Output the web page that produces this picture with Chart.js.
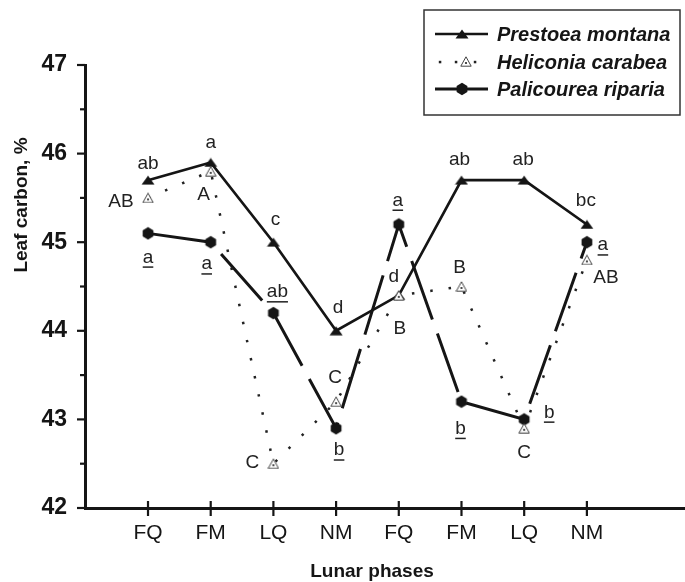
<!DOCTYPE html>
<html><head><meta charset="utf-8">
<script src="https://cdn.jsdelivr.net/npm/chart.js@4.4.1/dist/chart.umd.min.js"></script>
<style>html,body{margin:0;padding:0;background:#fff;}#wrap{width:685px;height:582px;}</style>
</head><body><div id="wrap"><canvas id="c" width="685" height="582"></canvas></div>
<script>
// ---- data ----
const phases = ['FQ','FM','LQ','NM','FQ','FM','LQ','NM'];
const seriesNames = ['Prestoea montana','Heliconia carabea','Palicourea riparia'];
const prestoea   = [45.7, 45.9, 45.0, 44.0, 44.4, 45.7, 45.7, 45.2];
const heliconia  = [45.5, 45.8, 42.5, 43.2, 44.4, 44.5, 42.9, 44.8];
const palicourea = [45.1, 45.0, 44.2, 42.9, 45.2, 43.2, 43.0, 45.0];
const prestoeaLetters   = ['ab','a','c','d','d','ab','ab','bc'];
const heliconiaLetters  = ['AB','A','C','C','B','B','C','AB'];
const palicoureaLetters = ['a','a','ab','b','a','b','b','a'];
const yTickValues = [42, 43, 44, 45, 46, 47];
const yMinorValues = [42.5, 43.5, 44.5, 45.5, 46.5];

// ---- label placement (pixel offsets from each point) ----
const prestoeaOffsets   = [[0,-16],[0,-20],[2,-22],[2,-23],[-5,-19],[-2,-20],[-1,-20],[-1,-24]];
const heliconiaOffsets  = [[-27,4],[-7,23],[-21,-1],[-1,-24],[1,33],[-2,-19],[0,25],[19,18]];
const palicoureaOffsets = [[0,24],[-4,22],[4,-21],[3,22],[-1,-24],[-1,27],[25,-7],[16,3]];

const FONT = '"Liberation Sans", Arial, Helvetica, sans-serif';
const INK = '#151515';

function makeCanvas(w, h, draw){ const c=document.createElement('canvas'); c.width=w; c.height=h; draw(c.getContext('2d')); return c; }
const hexMarker = makeCanvas(14,14,g=>{ g.fillStyle=INK; g.beginPath(); for(let k=0;k<6;k++){const a=-Math.PI/2+k*Math.PI/3; const x=7+6.2*Math.cos(a), y=7+6.2*Math.sin(a); k?g.lineTo(x,y):g.moveTo(x,y);} g.closePath(); g.fill(); });
const solidTri = makeCanvas(14,10,g=>{ g.fillStyle=INK; g.beginPath(); g.moveTo(7,0.5); g.lineTo(13.5,9.5); g.lineTo(0.5,9.5); g.closePath(); g.fill(); });
const openTri = makeCanvas(12,11,g=>{ g.fillStyle='#fff'; g.strokeStyle='#444'; g.lineWidth=1; g.beginPath(); g.moveTo(6,0.8); g.lineTo(11.2,10.2); g.lineTo(0.8,10.2); g.closePath(); g.fill(); g.stroke(); g.fillStyle='#222'; g.beginPath(); g.arc(6,7,1.1,0,Math.PI*2); g.fill(); });

const toPts = arr => arr.map((v,i)=>({x:i, y:v}));

const decorPlugin = {
  id:'decor',
  afterDatasetsDraw(chart){
    const ctx = chart.ctx, xs = chart.scales.x, ys = chart.scales.y;
    ctx.save();
    ctx.font = '19px ' + FONT; ctx.fillStyle = '#222'; ctx.textAlign='center'; ctx.textBaseline='middle';
    const put = (vals, letters, offs, underline) => {
      vals.forEach((v,i)=>{
        const px = xs.getPixelForValue(i) + offs[i][0];
        const py = ys.getPixelForValue(v) + offs[i][1];
        ctx.fillText(letters[i], px, py);
        if (underline){
          const w = ctx.measureText(letters[i]).width;
          ctx.fillRect(px - w/2, py + 9, w, 1.5);
        }
      });
    };
    put(prestoea, prestoeaLetters, prestoeaOffsets, false);
    put(heliconia, heliconiaLetters, heliconiaOffsets, false);
    put(palicourea, palicoureaLetters, palicoureaOffsets, true);
    ctx.restore();
  },
  afterDraw(chart){
    const ctx = chart.ctx, xs = chart.scales.x, ys = chart.scales.y;
    const left = chart.chartArea.left, bottom = chart.chartArea.bottom;
    ctx.save();
    ctx.strokeStyle = INK; ctx.lineWidth = 2.2; ctx.lineCap='butt';
    phases.forEach((p,i)=>{ const px = xs.getPixelForValue(i); ctx.beginPath(); ctx.moveTo(px, bottom-7); ctx.lineTo(px, bottom+8); ctx.stroke(); });
    yTickValues.forEach(v=>{ const py = ys.getPixelForValue(v); ctx.beginPath(); ctx.moveTo(left-8, py); ctx.lineTo(left, py); ctx.stroke(); });
    yMinorValues.forEach(v=>{ const py = ys.getPixelForValue(v); ctx.beginPath(); ctx.moveTo(left-5, py); ctx.lineTo(left, py); ctx.stroke(); });
    ctx.fillStyle = INK; ctx.font = 'bold 19px ' + FONT; ctx.textAlign='center'; ctx.textBaseline='middle';
    ctx.fillText('Lunar phases', 372, 572);
    ctx.save(); ctx.translate(22, 205); ctx.rotate(-Math.PI/2); ctx.fillText('Leaf carbon, %', 0, 0); ctx.restore();
    // legend
    ctx.strokeStyle = '#333'; ctx.lineWidth = 1.5; ctx.strokeRect(424, 10, 256, 105);
    const rows = [34, 62, 89];
    ctx.strokeStyle = INK;
    ctx.lineWidth = 2.7; ctx.beginPath(); ctx.moveTo(435, rows[0]); ctx.lineTo(488, rows[0]); ctx.stroke();
    ctx.drawImage(solidTri, 462-7, rows[0]-5);
    ctx.fillStyle = '#222';
    [440, 456, 475].forEach(x=>ctx.fillRect(x-1.2, rows[1]-1.2, 2.5, 2.5));
    ctx.drawImage(openTri, 466-6, rows[1]-6);
    ctx.lineWidth = 3; ctx.beginPath(); ctx.moveTo(435, rows[2]); ctx.lineTo(488, rows[2]); ctx.stroke();
    ctx.drawImage(hexMarker, 462-7, rows[2]-7);
    ctx.fillStyle = INK; ctx.font = 'italic bold 20px ' + FONT; ctx.textAlign='left';
    seriesNames.forEach((n,i)=>ctx.fillText(n, 497, rows[i]+1));
    ctx.restore();
  }
};

new Chart(document.getElementById('c'), {
  type:'line',
  data:{ datasets:[
    { label:seriesNames[0], data:toPts(prestoea), borderColor:INK, borderWidth:2.7, pointStyle:solidTri, pointRadius:7, order:2 },
    { label:seriesNames[1], data:toPts(heliconia), borderColor:'#222', borderWidth:2.5, borderDash:[2.5,16], pointStyle:openTri, pointRadius:6, order:0 },
    { label:seriesNames[2], data:toPts(palicourea), borderColor:INK, borderWidth:3, borderDash:[62,15], borderDashOffset:-2, pointStyle:hexMarker, pointRadius:7, order:1 }
  ]},
  options:{
    responsive:false, animation:false,
    layout:{ autoPadding:false, padding:{ left:0, top:65, right:0, bottom:0 } },
    plugins:{ legend:{display:false}, tooltip:{enabled:false} },
    scales:{
      x:{ type:'linear', min:-1.005, max:8.565,
          afterFit:s=>{ s.height = 74; s.paddingLeft = 0; s.paddingRight = 0; },
          afterBuildTicks:s=>{ s.ticks = phases.map((_,i)=>({value:i})); },
          grid:{ display:false, drawTicks:false },
          border:{ display:true, color:INK, width:3 },
          ticks:{ callback:v=>phases[v] ?? '', font:{ family:FONT, size:21 }, color:INK, padding:13, maxRotation:0, autoSkip:false } },
      y:{ min:42, max:47,
          afterFit:s=>{ s.width = 85; },
          afterBuildTicks:s=>{ s.ticks = yTickValues.map(v=>({value:v})); },
          grid:{ display:false, drawTicks:false },
          border:{ display:true, color:INK, width:3 },
          ticks:{ font:{ family:FONT, size:23, weight:'bold' }, color:INK, padding:18 } }
    }
  },
  plugins:[decorPlugin]
});
</script></body></html>
